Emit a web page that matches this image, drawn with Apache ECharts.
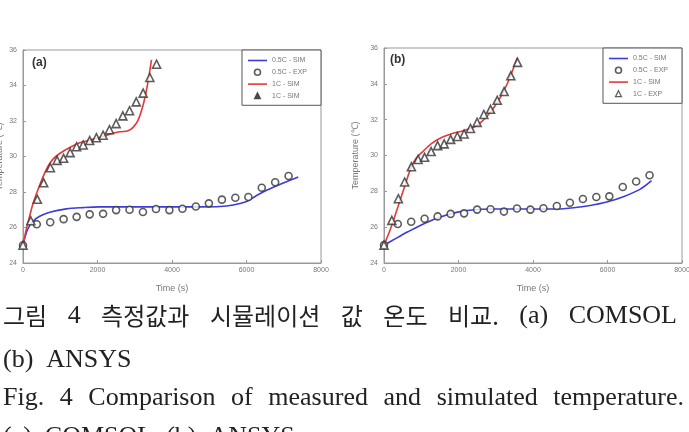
<!DOCTYPE html>
<html>
<head>
<meta charset="utf-8">
<script src="https://cdn.jsdelivr.net/npm/echarts@6/dist/echarts.min.js"></script>
<style>
  html, body { margin: 0; padding: 0; background: #fff; }
  #chart { width: 689px; height: 432px; }
</style>
</head>
<body>
<div id="chart"></div>
<script>
// 측정 데이터 (두 그림에 공통)
const expTime05 = [0, 370, 730, 1090, 1440, 1790, 2150, 2500, 2860, 3220, 3570, 3930, 4280, 4640, 4990, 5340, 5700, 6050, 6410, 6770, 7130];
const expTemp05 = [25.0, 26.18, 26.3, 26.47, 26.6, 26.74, 26.77, 26.98, 27.0, 26.87, 27.04, 26.98, 27.06, 27.18, 27.36, 27.57, 27.68, 27.72, 28.24, 28.55, 28.9];
const expTime1 = [0, 210, 385, 555, 735, 915, 1090, 1265, 1440, 1615, 1790, 1970, 2150, 2320, 2500, 2680, 2860, 3040, 3225, 3405, 3585];
const expTemp1 = [25.0, 26.38, 27.59, 28.52, 29.37, 29.78, 29.9, 30.22, 30.55, 30.65, 30.9, 31.06, 31.2, 31.51, 31.85, 32.29, 32.58, 33.08, 33.57, 34.45, 35.2];

// (a) COMSOL 시뮬레이션
const simTimeA05 = [0, 54, 134, 269, 448, 717, 1165, 1612, 2060, 2956, 3852, 4748, 5285, 5644, 6002, 6271, 6539, 6987, 7390];
const simTempA05 = [24.96, 25.47, 25.94, 26.35, 26.63, 26.86, 27.05, 27.12, 27.16, 27.16, 27.16, 27.16, 27.18, 27.27, 27.46, 27.8, 28.1, 28.51, 28.85];
const simTimeA1 = [0, 72, 161, 269, 403, 537, 672, 806, 985, 1254, 1523, 1792, 2060, 2329, 2598, 2822, 2956, 3090, 3225, 3314, 3386, 3449];
const simTempA1 = [24.96, 25.75, 26.5, 27.35, 28.14, 28.85, 29.45, 29.85, 30.17, 30.51, 30.77, 30.92, 31.07, 31.26, 31.39, 31.45, 31.64, 32.05, 32.9, 33.74, 34.59, 35.44];

// (b) ANSYS 시뮬레이션
const simTimeB05 = [0, 285, 641, 1086, 1531, 1976, 2421, 2866, 3755, 4645, 5090, 5535, 5980, 6425, 6870, 7181];
const simTempB05 = [24.99, 25.33, 25.74, 26.21, 26.58, 26.84, 26.97, 27.01, 27.01, 27.01, 27.08, 27.21, 27.4, 27.7, 28.11, 28.6];
const simTimeB1 = [0, 196, 374, 552, 730, 863, 1041, 1264, 1531, 1798, 2154, 2421, 2599, 2777, 2955, 3133, 3311, 3444, 3577];
const simTempB1 = [24.99, 26.02, 27.14, 28.26, 29.35, 29.85, 30.22, 30.65, 30.99, 31.2, 31.4, 31.59, 31.85, 32.22, 32.69, 33.27, 34.02, 34.71, 35.46];

const legendA = ['0.5C - SIM', '0.5C - EXP', '1C - SIM', '1C - SIM'];
const legendB = ['0.5C - SIM', '0.5C - EXP', '1C - SIM', '1C - EXP'];
const panelTags = ['(a)', '(b)'];

const captionLines = [
  '그림 4 측정값과 시뮬레이션 값 온도 비교. (a) COMSOL',
  '(b) ANSYS',
  'Fig. 4 Comparison of measured and simulated temperature.',
  '(a) COMSOL (b) ANSYS',
];

const zip = (xs, ys) => xs.map((x, i) => [x, ys[i]]);

const BLUE = '#3c3cdc', RED = '#e23a3a', MARK = '#333';
const AXIS_GRAY = '#999', LABEL_GRAY = '#777';
const LINE_ICON = 'path://M0,0H19V1.6H0Z';
const TRI_ICON = 'path://M3,0L6,6H0Z';

function xAxisOf(i) {
  return {
    gridIndex: i, type: 'value', min: 0, max: 8000, interval: 2000,
    name: 'Time (s)', nameLocation: 'middle', nameGap: 21,
    nameTextStyle: { fontSize: 9, color: LABEL_GRAY, fontFamily: 'Liberation Sans' },
    axisLine: { lineStyle: { color: AXIS_GRAY } },
    axisTick: { inside: true, length: 3, lineStyle: { color: AXIS_GRAY } },
    axisLabel: { fontSize: 7, color: LABEL_GRAY, margin: 4, fontFamily: 'Liberation Sans', formatter: (v) => String(v) },
    splitLine: { show: false },
  };
}
function yAxisOf(i, gap) {
  return {
    gridIndex: i, type: 'value', min: 24, max: 36, interval: 2,
    name: 'Temperature (℃)', nameLocation: 'middle', nameGap: gap,
    nameTextStyle: { fontSize: 9, color: LABEL_GRAY, fontFamily: 'Liberation Sans' },
    axisLine: { show: true, lineStyle: { color: AXIS_GRAY } },
    axisTick: { inside: true, length: 3, lineStyle: { color: AXIS_GRAY } },
    axisLabel: { fontSize: 7, color: LABEL_GRAY, margin: 6, fontFamily: 'Liberation Sans', formatter: (v) => String(v) },
    splitLine: { show: false },
  };
}

function legendOf(labels, right, top, names, triFill) {
  return {
    orient: 'vertical', right, top,
    data: [
      { name: names[0], icon: LINE_ICON, itemStyle: { color: BLUE } },
      { name: names[1], icon: 'circle', itemStyle: { color: '#fff', borderColor: MARK, borderWidth: 1.6 } },
      { name: names[2], icon: LINE_ICON, itemStyle: { color: RED } },
      { name: names[3], icon: TRI_ICON, itemStyle: { color: triFill, borderColor: MARK, borderWidth: 1.2 } },
    ],
    formatter: (n) => labels[names.indexOf(n)],
    symbolKeepAspect: true,
    itemWidth: 19, itemHeight: 6, itemGap: 4.5,
    padding: [7, 14, 6, 6],
    borderColor: '#555', borderWidth: 1, borderRadius: 0,
    backgroundColor: '#fff',
    selectedMode: false,
    textStyle: { fontSize: 7, color: '#777', fontFamily: 'Liberation Sans' },
  };
}

function lineSeries(name, i, data, color) {
  return {
    name, type: 'line', xAxisIndex: i, yAxisIndex: i, data,
    smooth: 0.3, symbol: 'none', lineStyle: { color, width: 1.6 }, itemStyle: { color }, z: 2,
  };
}
function markSeries(name, i, data, symbol, size) {
  return {
    name, type: 'scatter', xAxisIndex: i, yAxisIndex: i, data, symbol, symbolSize: size,
    itemStyle: { color: '#fff', borderColor: MARK, borderWidth: 1.6 }, z: 3,
  };
}

const namesA = ['a05sim', 'a05exp', 'a1sim', 'a1exp'];
const namesB = ['b05sim', 'b05exp', 'b1sim', 'b1exp'];

// 캡션: 단어별로 배치, 양쪽 정렬
const ctx = document.createElement('canvas').getContext('2d');
const KO = /[\uac00-\ud7a3]/;
const fontOf = (w) => KO.test(w) ? { size: 24, family: 'Noto Sans CJK KR' } : { size: 26, family: 'Liberation Serif' };
function widthOf(w) {
  const f = fontOf(w);
  ctx.font = f.size + 'px "' + f.family + '"';
  return ctx.measureText(w).width;
}
function captionLine(text, y, x0, x1) {
  const words = text.split(' ');
  const ws = words.map(widthOf);
  const total = ws.reduce((a, b) => a + b, 0);
  const gap = x1 != null ? (x1 - x0 - total) / (words.length - 1) : 13;
  let x = x0;
  return words.map((w, k) => {
    const f = fontOf(w);
    const el = {
      type: 'text', x, y,
      style: { text: w, fontSize: f.size, fontFamily: f.family, fill: '#222', verticalAlign: 'middle' },
    };
    x += ws[k] + gap;
    return el;
  });
}

const chart = echarts.init(document.getElementById('chart'));
chart.setOption({
  animation: false,
  backgroundColor: '#fff',
  grid: [
    { left: 23, top: 50, width: 298, height: 213, outerBoundsMode: 'none', containLabel: false, show: true, borderColor: AXIS_GRAY, borderWidth: 1, backgroundColor: 'transparent' },
    { left: 384, top: 48, width: 298, height: 215, outerBoundsMode: 'none', containLabel: false, show: true, borderColor: AXIS_GRAY, borderWidth: 1, backgroundColor: 'transparent' },
  ],
  xAxis: [xAxisOf(0), xAxisOf(1)],
  yAxis: [yAxisOf(0, 19), yAxisOf(1, 24)],
  legend: [
    legendOf(legendA, 368, 50, namesA, '#222'),
    legendOf(legendB, 7, 48, namesB, '#fff'),
  ],
  series: [
    lineSeries('a05sim', 0, zip(simTimeA05, simTempA05), BLUE),
    lineSeries('a1sim', 0, zip(simTimeA1, simTempA1), RED),
    markSeries('a05exp', 0, zip(expTime05, expTemp05), 'circle', 7),
    markSeries('a1exp', 0, zip(expTime1, expTemp1), 'triangle', 8),
    lineSeries('b05sim', 1, zip(simTimeB05, simTempB05), BLUE),
    lineSeries('b1sim', 1, zip(simTimeB1, simTempB1), RED),
    markSeries('b05exp', 1, zip(expTime05, expTemp05), 'circle', 7),
    markSeries('b1exp', 1, zip(expTime1, expTemp1), 'triangle', 8),
  ],
  graphic: [
    { type: 'text', x: 32, y: 63, style: { text: panelTags[0], fontSize: 12, fontWeight: 'bold', fontFamily: 'Liberation Sans', fill: '#333', verticalAlign: 'middle' } },
    { type: 'text', x: 390, y: 60, style: { text: panelTags[1], fontSize: 12, fontWeight: 'bold', fontFamily: 'Liberation Sans', fill: '#333', verticalAlign: 'middle' } },
    ...captionLine(captionLines[0], 316, 3, 677),
    ...captionLine(captionLines[1], 360, 3, null),
    ...captionLine(captionLines[2], 398, 3, 684),
    ...captionLine(captionLines[3], 437, 3, null),
  ],
});
</script>
</body>
</html>
